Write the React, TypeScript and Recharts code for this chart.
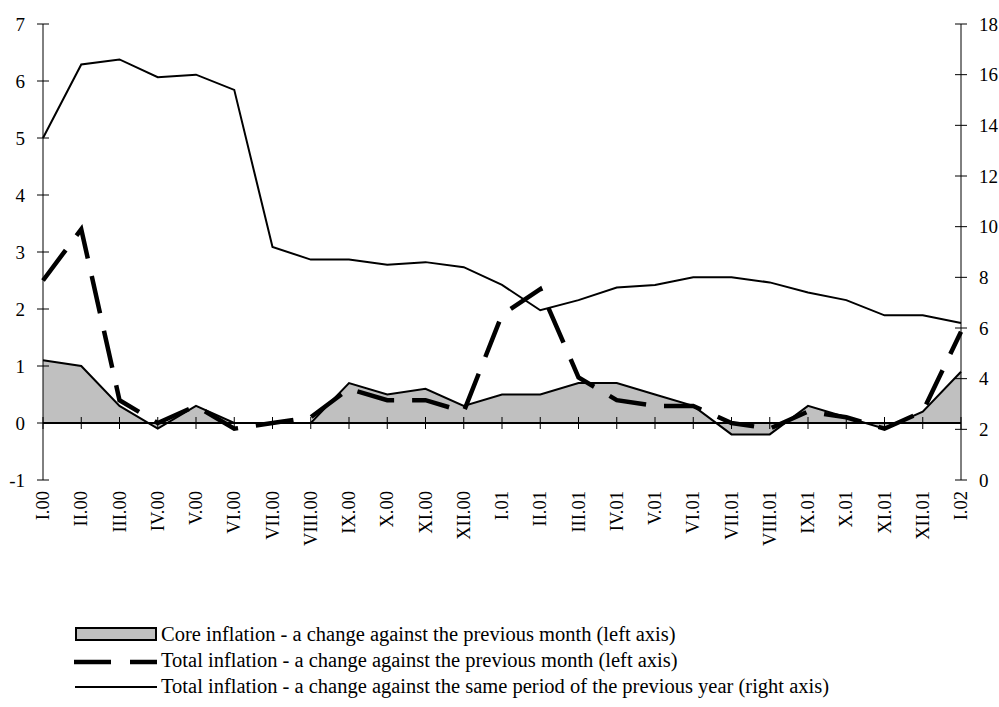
import React from 'react';
import { ComposedChart, Area, Line, XAxis, YAxis, ReferenceLine, Legend } from 'recharts';

const months = [
  'I.00', 'II.00', 'III.00', 'IV.00', 'V.00', 'VI.00', 'VII.00', 'VIII.00', 'IX.00', 'X.00', 'XI.00', 'XII.00',
  'I.01', 'II.01', 'III.01', 'IV.01', 'V.01', 'VI.01', 'VII.01', 'VIII.01', 'IX.01', 'X.01', 'XI.01', 'XII.01',
  'I.02',
];
const coreMoM = [1.1, 1.0, 0.3, -0.1, 0.3, 0, 0, 0, 0.7, 0.5, 0.6, 0.3, 0.5, 0.5, 0.7, 0.7, 0.5, 0.3, -0.2, -0.2, 0.3, 0.1, -0.1, 0.2, 0.9];
const totalMoM = [2.5, 3.4, 0.4, 0.0, 0.3, -0.1, 0.0, 0.1, 0.6, 0.4, 0.4, 0.2, 1.9, 2.35, 0.8, 0.4, 0.3, 0.3, 0.0, -0.1, 0.2, 0.1, -0.1, 0.2, 1.6];
const totalYoY = [13.5, 16.4, 16.6, 15.9, 16.0, 15.4, 9.2, 8.7, 8.7, 8.5, 8.6, 8.4, 7.7, 6.7, 7.1, 7.6, 7.7, 8.0, 8.0, 7.8, 7.4, 7.1, 6.5, 6.5, 6.2];

const leftTicks = [-1, 0, 1, 2, 3, 4, 5, 6, 7];
const rightTicks = [0, 2, 4, 6, 8, 10, 12, 14, 16, 18];
const legendLabels = [
  'Core inflation - a change against the previous month (left axis)',
  'Total inflation - a change against the previous month (left axis)',
  'Total inflation - a change against the same period of the previous year (right axis)',
];

const data = months.map((m, i) => ({ month: m, core: coreMoM[i], mom: totalMoM[i], yoy: totalYoY[i] }));

const W = 999;
const H = 707;
const MARGIN = { top: 24, right: 0, left: 0, bottom: 147 };
const X_AXIS_H = 80;
const PLOT_H = H - MARGIN.top - MARGIN.bottom - X_AXIS_H;
const LEFT_MIN = -1;
const LEFT_MAX = 7;
const FONT = "'Liberation Serif', 'Times New Roman', serif";
const GREY = '#c0c0c0';

const LeftTick = (props: any) => {
  const { x, y, payload } = props;
  return (
    <g>
      <line x1={x - 6} x2={x + 6} y1={y} y2={y} stroke="#000" strokeWidth={1} />
      <text x={x - 18} y={y} textAnchor="end" dominantBaseline="central" fontFamily={FONT} fontSize={19} fill="#000">
        {payload.value}
      </text>
    </g>
  );
};

const RightTick = (props: any) => {
  const { x, y, payload } = props;
  return (
    <g>
      <line x1={x - 6} x2={x + 6} y1={y} y2={y} stroke="#000" strokeWidth={1} />
      <text x={x + 18} y={y} textAnchor="start" dominantBaseline="central" fontFamily={FONT} fontSize={19} fill="#000">
        {payload.value}
      </text>
    </g>
  );
};

const BottomTick = (props: any) => {
  const { x, y, payload } = props;
  const zeroY = y - (PLOT_H * (0 - LEFT_MIN)) / (LEFT_MAX - LEFT_MIN);
  const ty = y + 11;
  return (
    <g>
      <line x1={x} x2={x} y1={zeroY - 6} y2={zeroY + 6} stroke="#000" strokeWidth={1} />
      <text
        x={x}
        y={ty}
        transform={`rotate(-90, ${x}, ${ty})`}
        textAnchor="end"
        dominantBaseline="central"
        fontFamily={FONT}
        fontSize={18.5}
        fill="#000"
      >
        {payload.value}
      </text>
    </g>
  );
};

const LegendContent = () => (
  <svg width={W} height={92} style={{ display: 'block' }}>
    <rect x={76} y={16} width={80} height={12} fill={GREY} stroke="#000" strokeWidth={2} />
    <text x={161} y={29} fontFamily={FONT} fontSize={20.5} fill="#000">{legendLabels[0]}</text>
    <line x1={74} x2={157} y1={50} y2={50} stroke="#000" strokeWidth={4.5} strokeDasharray="37 19" />
    <text x={161} y={55} fontFamily={FONT} fontSize={20.5} fill="#000">{legendLabels[1]}</text>
    <line x1={75} x2={157} y1={75} y2={75} stroke="#000" strokeWidth={2} />
    <text x={161} y={81} fontFamily={FONT} fontSize={20.5} fill="#000">{legendLabels[2]}</text>
  </svg>
);

export default function App() {
  return (
    <div style={{ position: 'absolute', left: 0, top: 0, width: W, height: H, background: '#fff' }}>
      <ComposedChart width={W} height={H} data={data} margin={MARGIN}>
        <XAxis
          dataKey="month"
          scale="point"
          padding={{ left: 0, right: 0 }}
          interval={0}
          axisLine={false}
          tickLine={false}
          tickSize={0}
          tickMargin={0}
          height={X_AXIS_H}
          tick={<BottomTick />}
        />
        <YAxis
          yAxisId="left"
          orientation="left"
          domain={[LEFT_MIN, LEFT_MAX]}
          ticks={leftTicks}
          interval={0}
          width={43}
          axisLine={{ stroke: '#000', strokeWidth: 1 }}
          tickLine={false}
          tickSize={0}
          tickMargin={0}
          tick={<LeftTick />}
        />
        <YAxis
          yAxisId="right"
          orientation="right"
          domain={[0, 18]}
          ticks={rightTicks}
          interval={0}
          width={38}
          axisLine={{ stroke: '#000', strokeWidth: 1 }}
          tickLine={false}
          tickSize={0}
          tickMargin={0}
          tick={<RightTick />}
        />
        <Area
          yAxisId="left"
          type="linear"
          dataKey="core"
          stroke="#000"
          strokeWidth={2}
          fill={GREY}
          fillOpacity={1}
          baseValue={0}
          dot={false}
          activeDot={false}
          isAnimationActive={false}
        />
        <ReferenceLine yAxisId="left" y={0} stroke="#000" strokeWidth={2} />
        <Line
          yAxisId="right"
          type="linear"
          dataKey="yoy"
          stroke="#000"
          strokeWidth={2}
          dot={false}
          activeDot={false}
          isAnimationActive={false}
        />
        <Line
          yAxisId="left"
          type="linear"
          dataKey="mom"
          stroke="#000"
          strokeWidth={4.5}
          strokeDasharray="38 18"
          dot={false}
          activeDot={false}
          isAnimationActive={false}
        />
        <Legend
          layout="horizontal"
          verticalAlign="middle"
          align="center"
          wrapperStyle={{ position: 'absolute', left: 0, top: 612, width: W, height: 92 }}
          content={() => <LegendContent />}
        />
      </ComposedChart>
    </div>
  );
}
